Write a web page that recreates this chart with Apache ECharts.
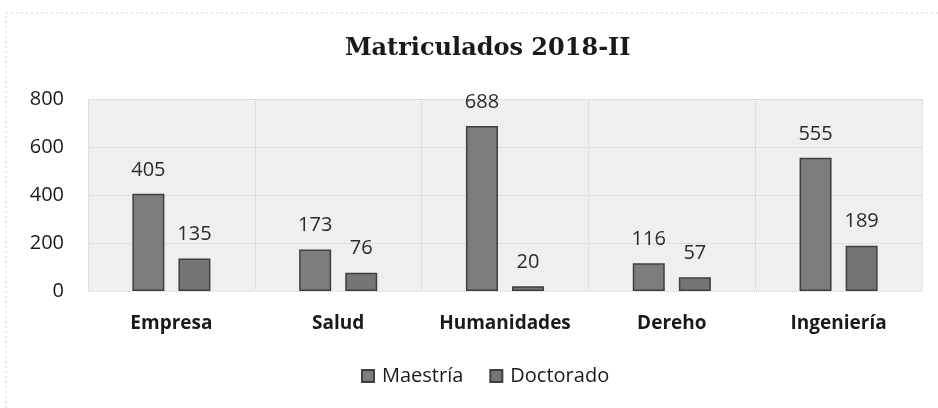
<!DOCTYPE html>
<html>
  <head>
    <meta charset="UTF-8" />
    <title>Matriculados 2018-II</title>
    <style type="text/css">
      html,
      body {
        width: 100%;
        height: 100%;
        margin: 0;
        padding: 0;
        overflow: hidden;
        background: #fff;
      }
      #chart {
        width: 938px;
        height: 408px;
      }
    </style>
  </head>
  <body>
    <div id="chart"></div>
    <script src="https://cdn.jsdelivr.net/npm/echarts@6/dist/echarts.min.js"></script>
    <script type="text/javascript">
      const categories = ["Empresa", "Salud", "Humanidades", "Dereho", "Ingeniería"];
      const maestria = [405, 173, 688, 116, 555];
      const doctorado = [135, 76, 20, 57, 189];
      const yTicks = [0, 200, 400, 600, 800];

      const sans = "'Open Sans', 'Noto Sans', sans-serif";
      const mychart = echarts.init(document.getElementById("chart"));

      const labelStyle = {
        show: true,
        position: "top",
        distance: 14,
        fontFamily: sans,
        fontSize: 20,
        color: "#2a2a2a",
      };

      const option = {
        backgroundColor: "#fff",
        animation: false,
        title: {
          text: "Matriculados 2018-II",
          left: 340,
          top: 32,
          textStyle: {
            fontFamily: "'DejaVu Serif', 'Liberation Serif', serif",
            fontWeight: "bold",
            fontSize: 24,
            color: "#1a1a1a",
          },
        },
        // faint dotted frame of the scanned chart
        graphic: [
          {
            type: "rect",
            shape: { x: 6, y: 13, width: 960, height: 420 },
            style: { fill: "none", stroke: "#d4d4d4", lineWidth: 1, lineDash: [2, 3] },
            silent: true,
          },
        ],
        legend: {
          bottom: 17,
          left: 356,
          itemWidth: 12,
          itemHeight: 12,
          itemGap: 26,
          icon: "rect",
          textStyle: { fontFamily: sans, fontSize: 20, color: "#1a1a1a", padding: [0, 0, 0, 3] },
          data: ["Maestría", "Doctorado"],
        },
        grid: {
          left: 88,
          right: 16,
          top: 99,
          bottom: 117,
          show: true,
          backgroundColor: "#efefef",
          borderWidth: 0,
        },
        xAxis: {
          type: "category",
          data: categories,
          axisLine: { show: false },
          axisTick: { show: false },
          splitLine: {
            show: true,
            interval: 0,
            lineStyle: { color: "#cdcdcd", type: "dotted" },
          },
          axisLabel: {
            interval: 0,
            margin: 23,
            fontFamily: sans,
            fontSize: 19,
            fontWeight: "bold",
            color: "#1a1a1a",
          },
        },
        yAxis: {
          type: "value",
          min: yTicks[0],
          max: yTicks[yTicks.length - 1],
          interval: 200,
          axisLine: { show: false },
          axisTick: { show: false },
          splitLine: {
            lineStyle: { color: "#cdcdcd", type: "dotted" },
          },
          axisLabel: {
            margin: 24,
            fontFamily: sans,
            fontSize: 20,
            color: "#1a1a1a",
          },
        },
        series: [
          {
            name: "Maestría",
            type: "bar",
            data: maestria,
            barWidth: 32,
            barGap: "44%",
            itemStyle: { color: "#7d7d7d", borderColor: "#3f3f3f", borderWidth: 1.5 },
            label: labelStyle,
          },
          {
            name: "Doctorado",
            type: "bar",
            data: doctorado,
            barWidth: 32,
            itemStyle: { color: "#737577", borderColor: "#3f3f3f", borderWidth: 1.5 },
            label: labelStyle,
          },
        ],
      };
      mychart.setOption(option);
    </script>
  </body>
</html>
